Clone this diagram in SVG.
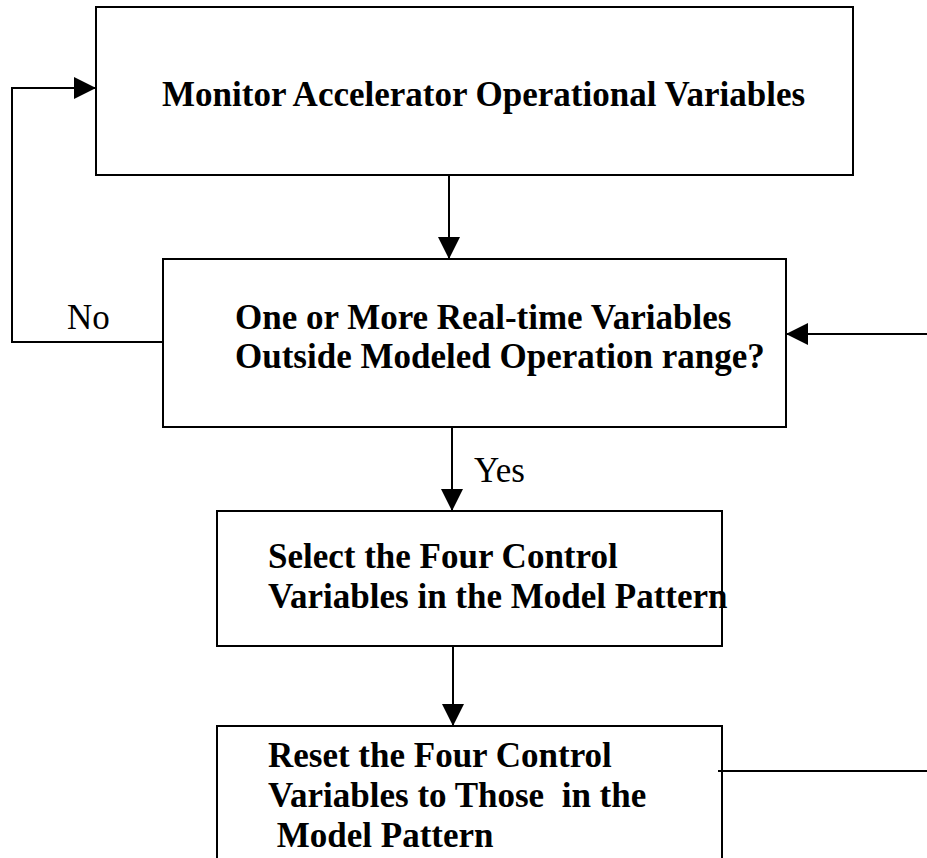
<svg xmlns="http://www.w3.org/2000/svg" width="927" height="858" viewBox="0 0 927 858">
<defs>
<style>
.box{fill:#fff;stroke:#000;stroke-width:2}
.t{font-family:"Liberation Serif","Times New Roman",serif;font-size:35px;font-weight:bold;fill:#000;white-space:pre}
.l{font-family:"Liberation Serif","Times New Roman",serif;font-size:35px;fill:#000}
.c{fill:none;stroke:#000;stroke-width:2}
</style>
<marker id="ah" markerUnits="userSpaceOnUse" markerWidth="22" markerHeight="22" refX="22" refY="11" orient="auto">
<path d="M0,0 L22,11 L0,22 z" fill="#000"/>
</marker>
</defs>
<rect width="927" height="858" fill="#fff"/>
<g id="monitor">
<rect class="box" x="96" y="7" width="757" height="168"/>
<text class="t" x="162" y="106">Monitor Accelerator Operational Variables</text>
</g>
<g id="decision">
<rect class="box" x="163" y="259" width="623" height="168"/>
<text class="t" x="235" y="329">One or More Real-time Variables</text>
<text class="t" x="235" y="368">Outside Modeled Operation range?</text>
</g>
<g id="select">
<rect class="box" x="217" y="511" width="505" height="135"/>
<text class="t" x="268" y="568">Select the Four Control</text>
<text class="t" x="268" y="608">Variables in the Model Pattern</text>
</g>
<g id="reset">
<rect class="box" x="217" y="726" width="505" height="150"/>
<text class="t" x="268" y="767">Reset the Four Control</text>
<text class="t" x="268" y="807">Variables to Those  in the</text>
<text class="t" x="268" y="847"> Model Pattern</text>
</g>
<g id="connectors">
<path class="c" d="M163,342 H12 V88 H96" marker-end="url(#ah)"/>
<path class="c" d="M449,175 V259" marker-end="url(#ah)"/>
<path class="c" d="M452,427 V511" marker-end="url(#ah)"/>
<path class="c" d="M453,646 V726" marker-end="url(#ah)"/>
<path class="c" d="M718,771 H932 V334 H786" marker-end="url(#ah)"/>
<text class="l" x="67" y="329">No</text>
<text class="l" x="474" y="482">Yes</text>
</g>
</svg>
